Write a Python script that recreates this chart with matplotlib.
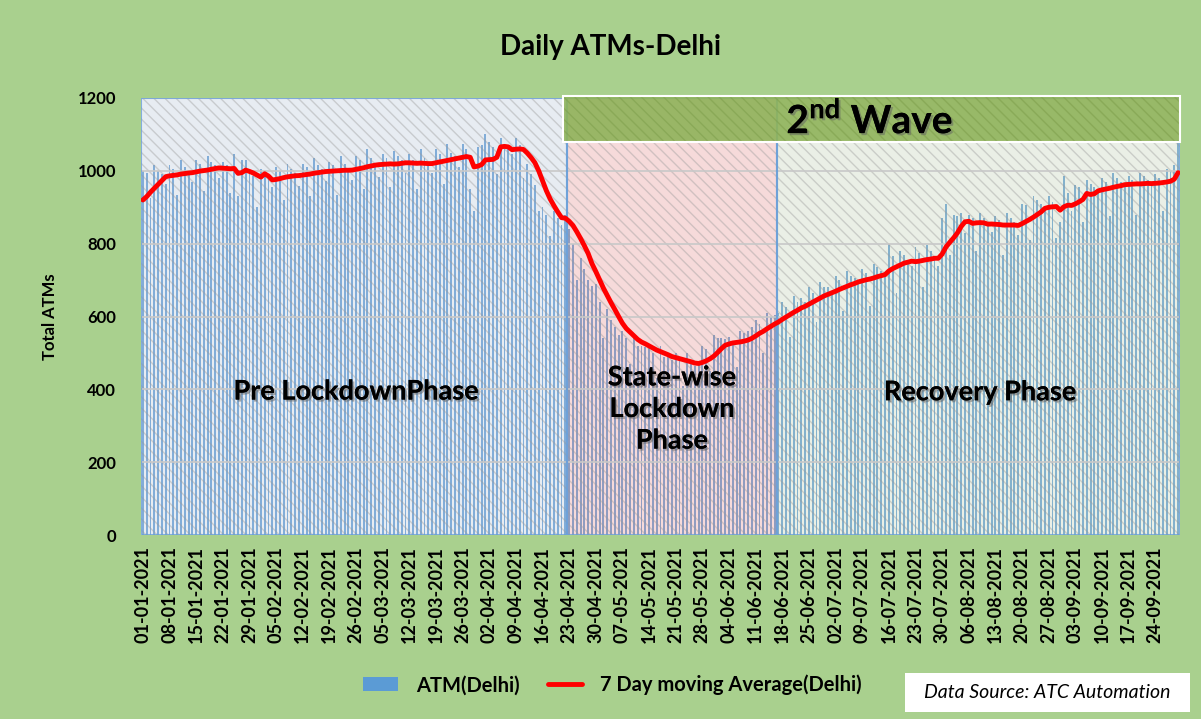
import numpy as np
import pandas as pd
import matplotlib
matplotlib.use('Agg')
import matplotlib.pyplot as plt
from matplotlib.patches import Rectangle
import matplotlib.patheffects as pe

plt.rcParams['font.family'] = ['Lato', 'DejaVu Sans']
plt.rcParams['hatch.linewidth'] = 1.0
plt.rcParams['mathtext.fontset'] = 'custom'
plt.rcParams['mathtext.bf'] = 'Lato:bold'
plt.rcParams['mathtext.rm'] = 'Lato'

# ATMs per day, 01-01-2021 .. 30-09-2021, one row per week (Fri..Thu)
atm_weeks = [
    [1000, 995, 925, 1015, 1000, 990, 963],
    [1015, 1005, 935, 1030, 1010, 1000, 970],
    [1030, 1020, 945, 1040, 1025, 1015, 981],
    [1025, 1015, 940, 1045, 930, 1030, 1029],
    [1000, 985, 900, 1005, 995, 985, 955],
    [1010, 1000, 920, 1020, 1005, 995, 959],
    [1020, 1010, 930, 1035, 1015, 1005, 971],
    [1025, 1015, 935, 1040, 1020, 1005, 974],
    [1040, 1030, 950, 1060, 1035, 1020, 984],
    [1045, 1035, 955, 1055, 1040, 1030, 994],
    [1045, 1030, 950, 1060, 1035, 1025, 995],
    [1060, 1045, 965, 1075, 1050, 1040, 1010],
    [1075, 1060, 950, 890, 1065, 1070, 1100],
    [1080, 1065, 990, 1090, 1075, 1060, 1046],
    [1090, 1070, 980, 1020, 990, 960, 890],
    [900, 880, 820, 890, 870, 850, 880],
    [840, 800, 700, 760, 730, 700, 685],
    [690, 640, 540, 620, 590, 570, 550],
    [560, 540, 470, 550, 520, 520, 515],
    [520, 500, 430, 520, 490, 490, 480],
    [500, 480, 410, 500, 470, 465, 472],
    [520, 510, 450, 550, 540, 540, 537],
    [545, 530, 460, 560, 555, 560, 570],
    [590, 580, 500, 610, 600, 605, 610],
    [640, 625, 545, 655, 640, 650, 641],
    [680, 665, 585, 695, 680, 680, 670],
    [710, 700, 615, 725, 710, 705, 700],
    [730, 720, 630, 745, 735, 725, 720],
    [800, 765, 665, 780, 770, 745, 739],
    [790, 775, 680, 795, 780, 760, 740],
    [870, 910, 770, 880, 875, 885, 830],
    [880, 870, 780, 885, 870, 860, 833],
    [875, 865, 770, 885, 870, 860, 825],
    [910, 905, 810, 930, 920, 910, 894],
    [930, 915, 815, 860, 985, 940, 890],
    [960, 955, 860, 975, 965, 955, 945],
    [980, 970, 875, 995, 980, 970, 964],
    [985, 975, 880, 995, 985, 975, 960],
    [990, 980, 890, 1005, 1000, 1015, 1085],
]
# last six days of 2020, needed for the first moving-average values
dec_2020 = [930, 840, 940, 925, 915, 890]

phase_names = ['Pre LockdownPhase', 'State-wise\nLockdown\nPhase', 'Recovery Phase']
phase_start = ['2021-01-01', '2021-04-23', '2021-06-17']
phase_end = ['2021-04-22', '2021-06-16', '2021-09-30']
phase_colors = ['#C2CDDF', '#E8A0A0', '#C8D6BE']
wave_start, wave_end = '2021-04-22', '2021-09-30'

dates = pd.date_range('2021-01-01', '2021-09-30', freq='D')
atm = [v for week in atm_weeks for v in week]
ma = pd.Series(dec_2020 + atm).rolling(7).mean().iloc[len(dec_2020):].to_numpy()
x = np.arange(len(dates))

fig = plt.figure(figsize=(12.01, 7.19), dpi=100, facecolor='#A9D08E')
ax = fig.add_axes([141 / 1201, 184 / 719, 1039 / 1201, 437 / 719])
ax.set_facecolor('white')

bars = ax.bar(x, atm, width=0.5, color='#5B9BD5', zorder=1, label='ATM(Delhi)')

for start, end, col in zip(phase_start, phase_end, phase_colors):
    x0 = dates.get_loc(pd.Timestamp(start)) - 0.5
    x1 = dates.get_loc(pd.Timestamp(end)) + 0.5
    ax.add_patch(Rectangle((x0, 0), x1 - x0, 1200, facecolor=col, alpha=0.38, lw=0, zorder=2))
    ax.add_patch(Rectangle((x0, 0), x1 - x0, 1200, facecolor='none', edgecolor='#9A9A9A',
                           hatch='\\\\\\', lw=0, alpha=0.4, zorder=3))
    ax.add_patch(Rectangle((x0, 0), x1 - x0, 1200, fill=False, edgecolor='#6A9FD8',
                           lw=1.5, alpha=0.8, zorder=4))

for yv in range(200, 1201, 200):
    ax.axhline(yv, color='#C8C8C8', lw=1.2, zorder=3.5)

# 2nd wave band
w0 = dates.get_loc(pd.Timestamp(wave_start)) - 0.5
w1 = dates.get_loc(pd.Timestamp(wave_end)) + 0.5
ax.add_patch(Rectangle((w0, 1078), w1 - w0, 127, facecolor='#8FB35A', alpha=0.9,
                       lw=0, zorder=5, clip_on=False))
ax.add_patch(Rectangle((w0, 1078), w1 - w0, 127, facecolor='none', edgecolor='#7A9A45',
                       hatch='\\\\\\', lw=0, alpha=0.4, zorder=5.5, clip_on=False))
ax.add_patch(Rectangle((w0, 1078), w1 - w0, 127, fill=False, edgecolor='white',
                       lw=1.5, zorder=5.6, clip_on=False))

line, = ax.plot(x, ma, color='#FF0000', lw=3.5, zorder=7, solid_capstyle='round',
                label='7 Day moving Average(Delhi)')

shadow = [pe.withSimplePatchShadow(offset=(1.5, -1.5), shadow_rgbFace='#606060', alpha=0.5), pe.Normal()]
label_pos = [(56, 394), (139, 346), (220, 392)]
for name, (px, py) in zip(phase_names, label_pos):
    ax.text(px, py, name, ha='center', va='center', fontsize=19.5, fontweight='bold',
            linespacing=1.38, zorder=8, path_effects=shadow)
ax.text(191, 1140, r'2$^{\mathbf{nd}}$ Wave', ha='center', va='center', fontsize=28,
        fontweight='bold', zorder=8, path_effects=shadow)

ax.set_xlim(-0.5, len(dates) - 0.5)
ax.set_ylim(0, 1200)
ax.set_yticks(range(0, 1201, 200))
ax.set_xticks(x[::7])
ax.set_xticklabels([d.strftime('%d-%m-%Y') for d in dates[::7]], rotation=90,
                   fontsize=13, fontweight='bold')
ax.tick_params(axis='y', length=0, pad=18, labelsize=12)
ax.tick_params(axis='x', length=0, pad=8)
for lbl in ax.get_yticklabels():
    lbl.set_fontweight('bold')
for s in ax.spines.values():
    s.set_visible(False)

ax.set_ylabel('Total ATMs', fontsize=12, fontweight='bold', labelpad=14)
fig.text(0.508, 0.934, 'Daily ATMs-Delhi', ha='center', va='center', fontsize=20, fontweight='bold')

fig.legend([bars, line], ['ATM(Delhi)', '7 Day moving Average(Delhi)'], loc='center',
           bbox_to_anchor=(0.51, 0.047), ncol=2, frameon=False,
           prop={'weight': 'bold', 'size': 14.5}, handlelength=1.7, handletextpad=0.9,
           columnspacing=1.4)

fig.patches.append(Rectangle((905 / 1201, 7 / 719), 285 / 1201, 39 / 719, transform=fig.transFigure,
                             facecolor='white', edgecolor='none'))
fig.text(1047 / 1201, 26 / 719, 'Data Source: ATC Automation', ha='center', va='center',
         fontsize=14, fontstyle='italic')

fig.savefig('out.png', dpi=100, facecolor=fig.get_facecolor())
